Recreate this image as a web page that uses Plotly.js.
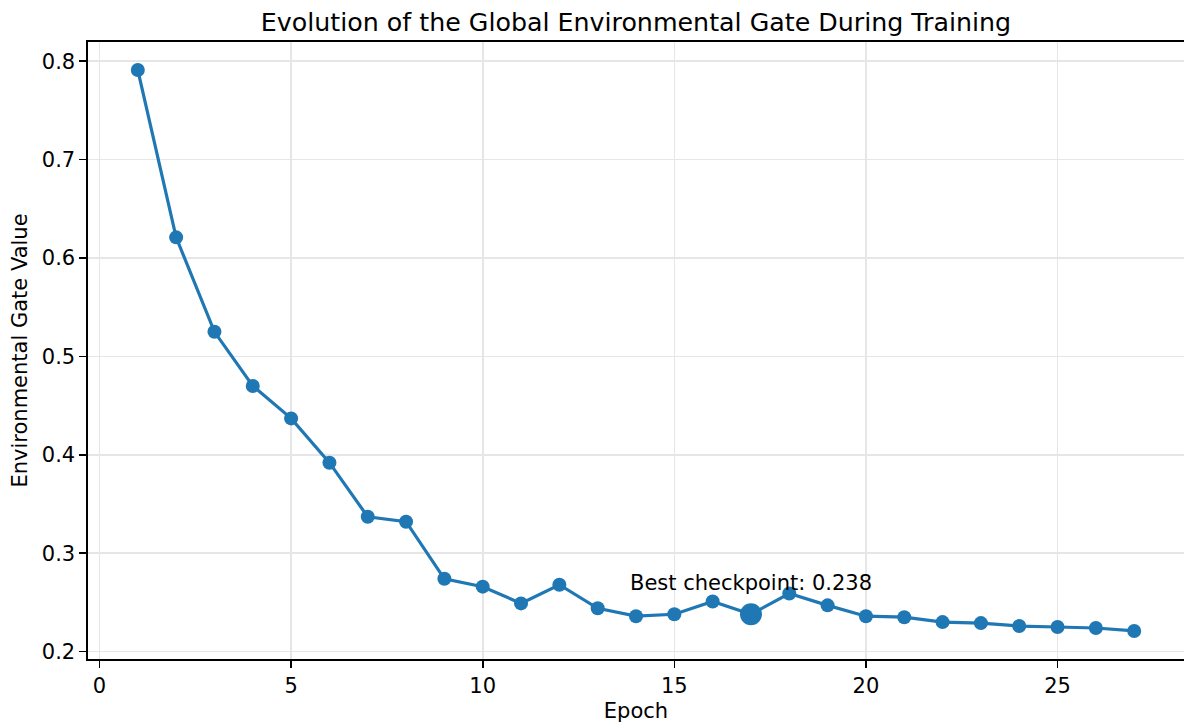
<!DOCTYPE html>
<html>
<head>
<meta charset="utf-8">
<script src="https://cdn.plot.ly/plotly-3.0.1.min.js"></script>
<style>html,body{margin:0;padding:0;background:#fff;overflow:hidden}</style>
</head>
<body>
<div id="chart" style="width:1184px;height:728px"></div>
<script>
const epochs = [1,2,3,4,5,6,7,8,9,10,11,12,13,14,15,16,17,18,19,20,21,22,23,24,25,26,27];
const gateValues = [0.791,0.621,0.525,0.470,0.437,0.392,0.337,0.332,0.274,0.266,0.249,0.268,0.244,0.236,0.238,0.251,0.238,0.259,0.247,0.236,0.235,0.230,0.229,0.226,0.225,0.224,0.221];
const bestEpoch = 17;
const bestValue = 0.238;
const bestLabel = "Best checkpoint: 0.238";
const xTicks = [0,5,10,15,20,25];
const yTicks = [0.2,0.3,0.4,0.5,0.6,0.7,0.8];

const blue = '#1f77b4';
const font = 'DejaVu Sans, sans-serif';

const data = [
  {
    x: epochs, y: gateValues, type: 'scatter', mode: 'lines+markers',
    line: {color: blue, width: 3.2},
    marker: {color: blue, size: 14},
    hoverinfo: 'x+y', showlegend: false
  },
  {
    x: [bestEpoch], y: [bestValue], type: 'scatter', mode: 'markers',
    marker: {color: blue, size: 22},
    showlegend: false
  }
];

const axisCommon = {
  showline: true, linecolor: '#000', linewidth: 1.6,
  ticks: 'outside', ticklen: 7, tickwidth: 1.6, tickcolor: '#000',
  showgrid: true, gridcolor: '#e6e6e6', gridwidth: 1.6,
  zeroline: false,
  tickfont: {family: font, size: 21, color: '#000'}
};

const layout = {
  width: 1184, height: 728,
  paper_bgcolor: '#fff', plot_bgcolor: '#fff',
  margin: {l: 88, r: 0, t: 42, b: 69},
  font: {family: font, color: '#000'},
  title: {
    text: 'Evolution of the Global Environmental Gate During Training',
    font: {family: font, size: 25.3, color: '#000'},
    x: 0.5, xref: 'paper', xanchor: 'center',
    y: 1, yref: 'paper', yanchor: 'bottom', pad: {b: 11}
  },
  xaxis: Object.assign({}, axisCommon, {
    mirror: true,
    range: [-0.3, 28.3],
    tickvals: xTicks, ticktext: xTicks.map(String),
    title: {text: 'Epoch', font: {family: font, size: 21, color: '#000'}, standoff: 6}
  }),
  yaxis: Object.assign({}, axisCommon, {
    mirror: false,
    range: [0.1925, 0.8195],
    tickvals: yTicks, ticktext: yTicks.map(v => v.toFixed(1)),
    title: {text: 'Environmental Gate Value', font: {family: font, size: 21, color: '#000'}, standoff: 8}
  }),
  annotations: [{
    x: bestEpoch, y: bestValue, xref: 'x', yref: 'y',
    text: bestLabel, showarrow: false,
    xanchor: 'center', yanchor: 'bottom', yshift: 17,
    font: {family: font, size: 21, color: '#000'}
  }]
};

Plotly.newPlot('chart', data, layout, {displayModeBar: false, staticPlot: true});
</script>
</body>
</html>
